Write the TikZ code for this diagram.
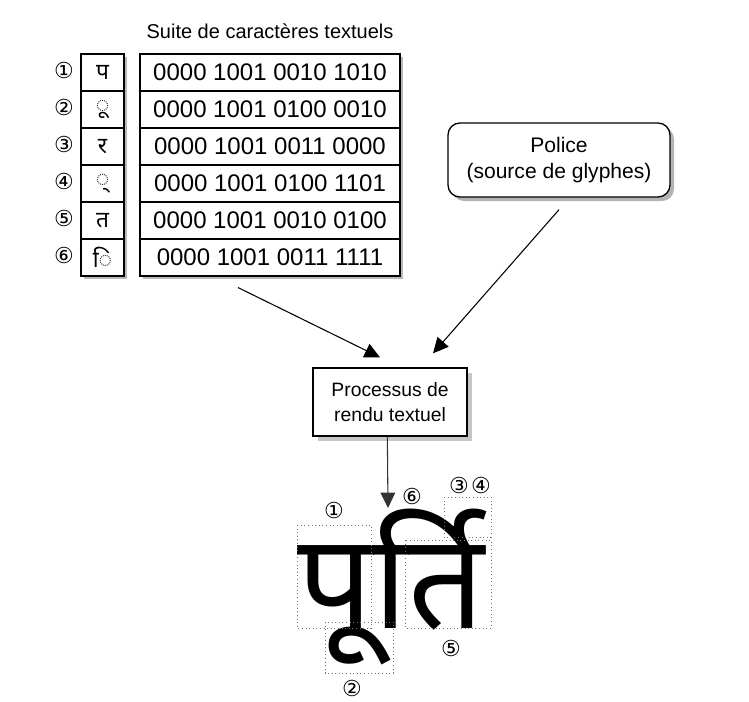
\documentclass[tikz,border=0pt]{standalone}
\usepackage{fontspec}
\setmainfont{Liberation Sans}
\newfontfamily\deva[Script=Devanagari]{Noto Sans}
\newfontfamily\circfont{DejaVu Sans}
\usetikzlibrary{arrows.meta,shadows}

\tikzset{
  cell/.style={draw, line width=0.8pt, inner sep=0pt, minimum height=27.75pt},
  codecell/.style={cell, minimum width=195pt, font=\fontsize{18}{20}\selectfont},
  glyphcell/.style={cell, minimum width=32.25pt, font=\deva\fontsize{17}{18}\selectfont},
  colframe/.style={draw, line width=0.8pt, fill=white, inner sep=0pt,
    drop shadow={shadow xshift=2.5pt, shadow yshift=-2.5pt, opacity=0.55}},
  num/.style={font=\circfont\fontsize{16.5}{16.5}\selectfont, inner sep=0pt},
  procbox/.style={draw, line width=1pt, fill=white, align=center,
    font=\fontsize{14.5}{19}\selectfont,
    drop shadow={shadow xshift=4pt, shadow yshift=-4pt, opacity=0.45}},
  fontbox/.style={draw, line width=1pt, fill=white, rounded corners=9pt, align=center,
    font=\fontsize{15.8}{20}\selectfont,
    drop shadow={shadow xshift=3pt, shadow yshift=-3pt, opacity=0.6}},
  arr/.style={line width=0.8pt, -{Triangle[length=11.5pt, width=11pt]}},
  partbox/.style={draw=black!55, dotted, line width=0.7pt, inner sep=0pt},
}

\begin{document}
\begin{tikzpicture}[x=0.75pt, y=-0.75pt]
\useasboundingbox (0,0) rectangle (749,701);

% title of the character table
\node[font=\fontsize{15}{18}\selectfont] (title) at (270,31) {Suite de caractères textuels};

% outer frames of the two columns
\node[colframe, minimum width=32.25pt, minimum height=166.5pt] (glyphs) at (102.5,165) {};
\node[colframe, minimum width=195pt, minimum height=166.5pt] (codes) at (270,165) {};

% rows: character and its code point in binary
\node[glyphcell] (g1) at (102.5,72.5) {प};
\node[glyphcell] (g2) at (102.5,109.5) {◌ू};
\node[glyphcell] (g3) at (102.5,146.5) {र};
\node[glyphcell] (g4) at (102.5,183.5) {◌्};
\node[glyphcell] (g5) at (102.5,220.5) {त};
\node[glyphcell] (g6) at (102.5,257.5) {◌ि};

\node[codecell] (b1) at (270,72.5) {0000 1001 0010 1010};
\node[codecell] (b2) at (270,109.5) {0000 1001 0100 0010};
\node[codecell] (b3) at (270,146.5) {0000 1001 0011 0000};
\node[codecell] (b4) at (270,183.5) {0000 1001 0100 1101};
\node[codecell] (b5) at (270,220.5) {0000 1001 0010 0100};
\node[codecell] (b6) at (270,257.5) {0000 1001 0011 1111};

\node[num] (n1) at (64,70) {①};
\node[num] (n2) at (64,107) {②};
\node[num] (n3) at (64,144) {③};
\node[num] (n4) at (64,181) {④};
\node[num] (n5) at (64,218) {⑤};
\node[num] (n6) at (64,255) {⑥};

% font source and rendering process
\node[fontbox, minimum width=166.5pt, minimum height=55.5pt] (font) at (559,160)
  {Police\\(source de glyphes)};
\node[procbox, minimum width=115.5pt, minimum height=51pt] (proc) at (390,402)
  {Processus de\\rendu textuel};

\draw[arr] ([shift={(-32,11)}]codes.south) -- ([shift={(-10,-10)}]proc.north);
\draw[arr] ([shift={(0,12)}]font.south) -- ([shift={(43,-14)}]proc.north);
\draw[arr, draw=black!80] ([xshift=-2pt]proc.south) -- (388,508) coordinate (out);

% rendered result
\node[font=\deva\fontsize{100}{100}\selectfont, inner sep=0pt, anchor=base] (word) at (391,628) {पूर्ति};

% component boxes
\draw[partbox] (297,525) rectangle (371,628);
\draw[partbox] (325,622) rectangle (393,673);
\draw[partbox] (444,497) rectangle (491,537);
\draw[partbox] (405,540) rectangle (491,628);

\node[num] (p1) at (334,510) {①};
\node[num] (p2) at (352,688) {②};
\node[num] (p3) at (459,485) {③};
\node[num] (p4) at (481,485) {④};
\node[num] (p5) at (451,648) {⑤};
\node[num] (p6) at (412,496) {⑥};
\end{tikzpicture}
\end{document}
